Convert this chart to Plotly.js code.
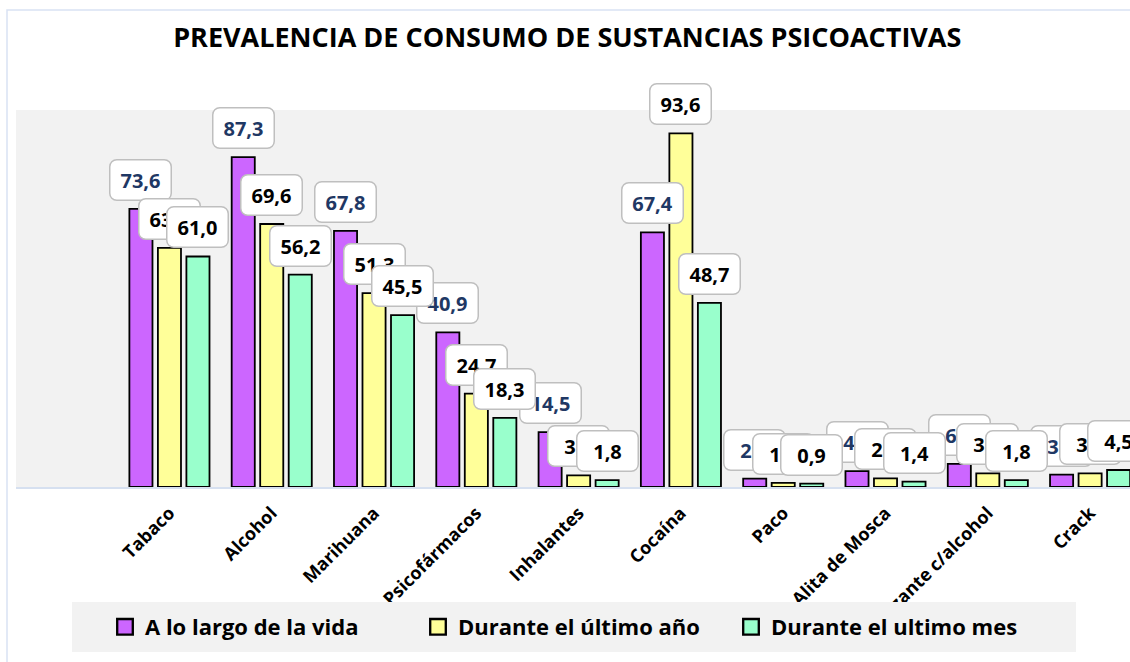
<!DOCTYPE html>
<html>
<head>
<meta charset="utf-8">
<script src="https://cdn.plot.ly/plotly-3.0.1.min.js"></script>
<style>html,body{margin:0;padding:0;background:#fff;}#chart{width:1130px;height:662px;}</style>
</head>
<body>
<div id="chart"></div>
<script>
const categories = ["Tabaco", "Alcohol", "Marihuana", "Psicofármacos", "Inhalantes", "Cocaína", "Paco", "Alita de Mosca", "Energizante c/alcohol", "Crack"];
const seriesNames = ["A lo largo de la vida", "Durante el último año", "Durante el ultimo mes"];
const vida = [73.6, 87.3, 67.8, 40.9, 14.5, 67.4, 2.2, 4.2, 6.1, 3.3];
const anio = [63.3, 69.6, 51.3, 24.7, 3.1, 93.6, 1.1, 2.3, 3.6, 3.6];
const mes  = [61.0, 56.2, 45.5, 18.3, 1.8, 48.7, 0.9, 1.4, 1.8, 4.5];
const seriesValues = [vida, anio, mes];
const colors = ["#cc66ff", "#ffff99", "#99ffcc"];
const labelColors = ["#1f3864", "#000000", "#000000"];

const FONT = "'Open Sans', Lato, sans-serif";
const bargap = 0.164, bargroupgap = 0.19;
const slot = (1 - bargap) / seriesValues.length;

const traces = seriesValues.map((vals, j) => ({
  type: "bar",
  name: seriesNames[j],
  x: categories,
  y: vals,
  marker: {color: colors[j], line: {color: "#000000", width: 1.8}},
  hoverinfo: "skip"
}));

const fmt = v => v.toFixed(1).replace(".", ",");
const annotations = [];
seriesValues.forEach((vals, j) => {
  vals.forEach((v, i) => {
    annotations.push({
      x: i + (j - 1) * slot,
      y: v,
      xref: "x", yref: "y",
      text: "<b>" + fmt(v) + "</b>",
      showarrow: false,
      xanchor: "center", yanchor: "bottom",
      yshift: 8,
      width: 52, height: 31,
      align: "center", valign: "middle",
      bgcolor: "#ffffff",
      bordercolor: "#bfbfbf",
      borderwidth: 1.5,
      borderpad: 4,
      font: {family: FONT, size: 20, color: labelColors[j]}
    });
  });
});

const L = 16, T = 110, W = 1130, H = 662, B = 175;
const plotW = W - L, plotH = H - T - B;
const px2x = p => (p - L) / plotW;
const px2y = p => (H - B - p) / plotH;

const layout = {
  width: W, height: H,
  margin: {l: L, r: 0, t: T, b: B, pad: 0},
  paper_bgcolor: "#ffffff",
  plot_bgcolor: "#f2f2f2",
  barmode: "group",
  bargap: bargap,
  bargroupgap: bargroupgap,
  title: {
    text: "<b>PREVALENCIA DE CONSUMO DE SUSTANCIAS PSICOACTIVAS</b>",
    x: 0.502, xref: "container", xanchor: "center",
    y: 1 - 38 / H, yref: "container", yanchor: "middle",
    font: {family: FONT, size: 27, color: "#000000"}
  },
  xaxis: {
    type: "category",
    range: [-1.5, 9.39],
    tickangle: -45,
    ticklabelstandoff: 7,
    tickfont: {family: FONT, size: 18, color: "#000000", weight: "bold"},
    showline: true, linecolor: "#d6e0f0", linewidth: 1.5,
    ticks: "", showgrid: false, zeroline: false, fixedrange: true
  },
  yaxis: {
    range: [0, 99.76],
    showticklabels: false, showgrid: false, zeroline: false,
    showline: false, ticks: "", fixedrange: true
  },
  legend: {
    orientation: "h",
    x: px2x(105), xanchor: "left",
    y: px2y(627), yanchor: "middle",
    bgcolor: "rgba(0,0,0,0)",
    entrywidth: 268,
    font: {family: FONT, size: 22, color: "#000000", weight: "bold"},
    itemclick: false, itemdoubleclick: false
  },
  annotations: annotations,
  shapes: [{
    type: "rect", xref: "paper", yref: "paper",
    x0: px2x(7), x1: px2x(1140), y0: px2y(680), y1: px2y(10),
    line: {color: "#d9e2f3", width: 1.5}, fillcolor: "rgba(0,0,0,0)",
    layer: "below"
  }, {
    type: "rect", xref: "paper", yref: "paper",
    x0: px2x(72), x1: px2x(1076), y0: px2y(652), y1: px2y(602),
    line: {width: 0}, fillcolor: "#f2f2f2",
    layer: "above"
  }],
  showlegend: true
};

Plotly.newPlot("chart", traces, layout, {displayModeBar: false, staticPlot: true}).then(() => {
  document.querySelectorAll(".annotation rect.bg").forEach(r => {
    r.setAttribute("rx", "7");
    r.setAttribute("ry", "7");
  });
  document.querySelectorAll(".legend .legendpoints path").forEach(p => {
    const t = p.getAttribute("transform") || "";
    p.setAttribute("transform", t + " scale(1.3)");
  });
});
</script>
</body>
</html>
